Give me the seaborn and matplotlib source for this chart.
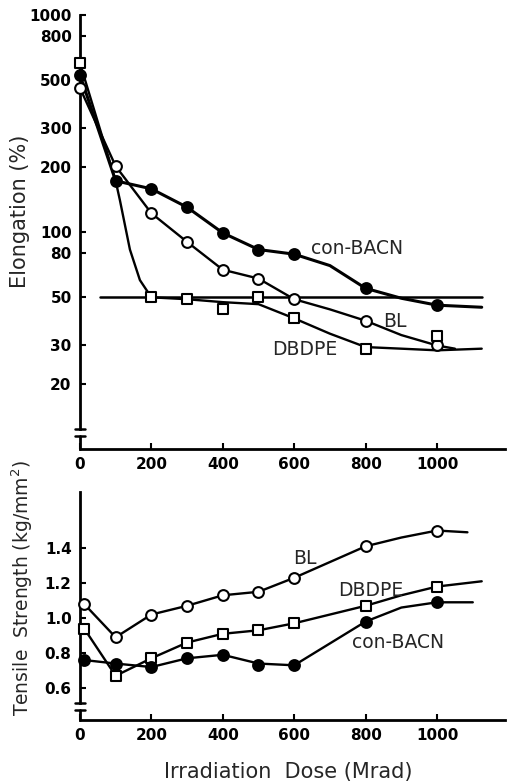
import matplotlib
matplotlib.use("Agg")
import numpy as np
import pandas as pd
import matplotlib.pyplot as plt
import seaborn as sns

# --- elongation (top panel), log scale ---
dose = [0, 100, 200, 300, 400, 500, 600, 800, 1000]
elong_bacn = [530, 172, 158, 130, 99, 83, 79, 55, 46]
elong_bl = [461, 201, 122, 90, 67, 61, 49, 39, 30]
dbdpe_dose = [0, 200, 300, 400, 500, 600, 800, 1000]
elong_dbdpe = [600, 50, 49, 44, 50, 40, 29, 33]

# drawn curves
bacn_curve_x = [0, 100, 200, 300, 400, 500, 600, 700, 800, 900, 1000, 1125]
bacn_curve_y = [530, 172, 158, 130, 99, 83, 79, 70, 55, 49.5, 46, 45]
bl_curve_x = [0, 100, 200, 300, 400, 500, 600, 700, 800, 900, 1000, 1050]
bl_curve_y = [461, 201, 122, 90, 67, 61, 49, 44, 39, 33.5, 30, 29]
dbdpe_curve_x = [0, 100, 112, 140, 168, 200, 300, 400, 500, 600, 700, 800, 900, 1000, 1125]
dbdpe_curve_y = [600, 172, 140, 83, 60, 50, 49, 47.5, 46.5, 40, 34, 29.5, 29, 28.5, 29]
ref_x = [57, 1125]
ref_y = [50, 50]

# --- tensile strength (bottom panel) ---
ts_dose = [12, 100, 200, 300, 400, 500, 600, 800, 1000]
ts_bl = [1.08, 0.89, 1.02, 1.07, 1.13, 1.15, 1.23, 1.41, 1.50]
ts_dbdpe = [0.94, 0.67, 0.77, 0.86, 0.91, 0.93, 0.97, 1.07, 1.18]
ts_bacn = [0.76, 0.74, 0.72, 0.77, 0.79, 0.73, 0.73, 0.98, 1.09]

ts_bl_curve_x = [12, 100, 200, 300, 400, 500, 600, 700, 800, 900, 1000, 1085]
ts_bl_curve_y = [1.08, 0.89, 1.02, 1.07, 1.13, 1.15, 1.23, 1.32, 1.41, 1.46, 1.50, 1.49]
ts_dbdpe_curve_x = [12, 100, 200, 300, 400, 500, 600, 800, 900, 1000, 1125]
ts_dbdpe_curve_y = [0.94, 0.67, 0.77, 0.86, 0.91, 0.93, 0.97, 1.07, 1.13, 1.18, 1.21]
ts_bacn_curve_x = [12, 100, 200, 300, 400, 500, 600, 800, 900, 1000, 1100]
ts_bacn_curve_y = [0.76, 0.74, 0.72, 0.77, 0.79, 0.74, 0.73, 0.98, 1.06, 1.09, 1.09]

top_yticks = [20, 30, 50, 80, 100, 200, 300, 500, 800, 1000]
bot_yticks = [0.6, 0.8, 1.0, 1.2, 1.4]
bot_ylabels = ["0.6", "0.8", "1.0", "1.2", "1.4"]
xticks = [0, 200, 400, 600, 800, 1000]

sns.set_theme(style="ticks")
plt.rcParams["font.family"] = ["DejaVu Sans"]

fig = plt.figure(figsize=(5.09, 7.81), dpi=100)
ax1 = fig.add_axes([0.157, 0.425, 0.835, 0.556])
ax2 = fig.add_axes([0.157, 0.078, 0.835, 0.292])

K = "black"


def draw(ax, cx, cy, px, py, marker, fill, lw=1.7, ms=60):
    sns.lineplot(x=cx, y=cy, ax=ax, color=K, lw=lw, sort=False,
                 estimator=None, zorder=2)
    sns.scatterplot(x=px, y=py, ax=ax, marker=marker, s=ms, color=fill,
                    edgecolor=K, linewidth=1.5, zorder=3, clip_on=False)


# top panel
sns.lineplot(x=ref_x, y=ref_y, ax=ax1, color=K, lw=1.8, zorder=2)
draw(ax1, bacn_curve_x, bacn_curve_y, dose, elong_bacn, "o", K, lw=2.2)
draw(ax1, bl_curve_x, bl_curve_y, dose, elong_bl, "o", "white")
draw(ax1, dbdpe_curve_x, dbdpe_curve_y, dbdpe_dose, elong_dbdpe, "s", "white", ms=45)
ax1.set_yscale("log")
ax1.set_ylim(10, 1000)
ax1.set_yticks(top_yticks)
ax1.set_yticklabels([str(v) for v in top_yticks])
ax1.yaxis.set_minor_locator(matplotlib.ticker.NullLocator())

# bottom panel
draw(ax2, ts_bl_curve_x, ts_bl_curve_y, ts_dose, ts_bl, "o", "white")
draw(ax2, ts_dbdpe_curve_x, ts_dbdpe_curve_y, ts_dose, ts_dbdpe, "s", "white", ms=45)
draw(ax2, ts_bacn_curve_x, ts_bacn_curve_y, ts_dose, ts_bacn, "o", K)
ax2.set_ylim(0.417, 1.72)
ax2.set_yticks(bot_yticks)
ax2.set_yticklabels(bot_ylabels)

for ax, brk in [(ax1, (11.5, 12.4)), (ax2, (0.474, 0.514))]:
    ax.set_xlim(0, 1190)
    ax.set_xticks(xticks)
    ax.set_xticklabels([str(v) for v in xticks])
    ax.set_xlabel("")
    ax.set_ylabel("")
    for s in ["top", "right"]:
        ax.spines[s].set_visible(False)
    for s in ["left", "bottom"]:
        ax.spines[s].set_linewidth(2)
        ax.spines[s].set_color(K)
    ax.tick_params(direction="in", length=4, width=1.5, colors=K,
                   labelsize=11, pad=6)
    for lab in ax.get_xticklabels() + ax.get_yticklabels():
        lab.set_fontweight("bold")
    # axis break on the left spine
    ylo = ax.get_ylim()[0]
    ytop = ax.get_ylim()[1]
    ax.spines["left"].set_bounds(brk[1], ytop)
    tr = matplotlib.transforms.blended_transform_factory(ax.transAxes, ax.transData)
    ax.plot([0, 0], [ylo, brk[0]], color=K, lw=2, transform=tr, clip_on=False)
    for yb in brk:
        ax.plot([-0.012, 0.012], [yb, yb], color=K, lw=1.8, transform=tr, clip_on=False)

# series labels
lab_fs = 13.5
ax1.text(646, 83.6, "con-BACN", fontsize=lab_fs, va="center", ha="left")
ax1.text(850, 38.5, "BL", fontsize=lab_fs, va="center", ha="left")
ax1.text(538, 28.6, "DBDPE", fontsize=lab_fs, va="center", ha="left")
ax2.text(629, 1.343, "BL", fontsize=lab_fs, va="center", ha="center")
ax2.text(813, 1.16, "DBDPE", fontsize=lab_fs, va="center", ha="center")
ax2.text(892, 0.863, "con-BACN", fontsize=lab_fs, va="center", ha="center")

fig.text(0.040, 1 - 211 / 781, "Elongation (%)", rotation=90, fontsize=15,
         ha="center", va="center")
fig.text(0.043, 1 - 588 / 781, "Tensile  Strength (kg/mm$^2$)", rotation=90,
         fontsize=13.5, ha="center", va="center")
fig.text(288 / 509, 1 - 772 / 781, "Irradiation  Dose (Mrad)", fontsize=15,
         ha="center", va="center")

fig.savefig("out.png", dpi=100)
